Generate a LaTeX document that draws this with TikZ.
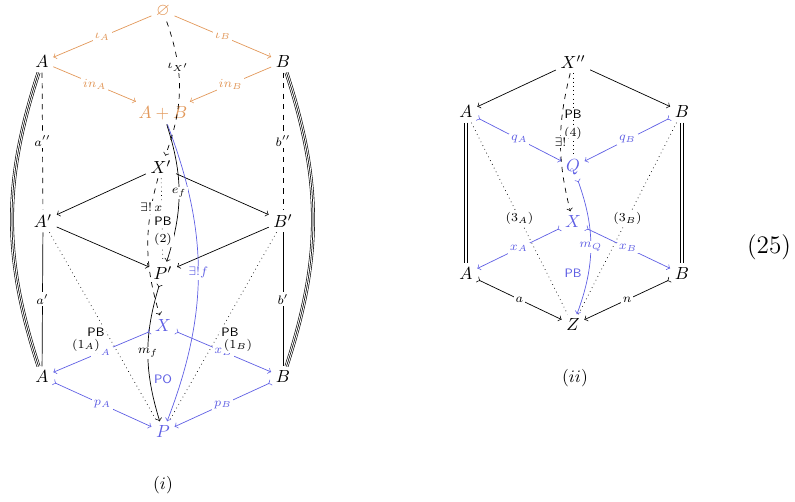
\documentclass[tikz,border=0pt]{standalone}
\usepackage{amsmath,amssymb}
\definecolor{myorange}{RGB}{226,152,90}
\definecolor{myblue}{RGB}{95,95,228}
\begin{document}
\begin{tikzpicture}[x=0.571pt,y=-0.571pt,>=to,
  every node/.style={inner sep=2.5pt},
  lab/.style={fill=white, inner sep=1pt, font=\scriptsize},
  pbl/.style={font=\sffamily\scriptsize, inner sep=1pt, fill=white},
  pbt/.style={font=\sffamily\scriptsize, inner sep=1pt},
  triplebg/.style={double distance=1.5pt, line width=0.35pt},
  tripleln/.style={line width=0.35pt},
  eqline/.style={double distance=1.3pt, line width=0.35pt}]
\useasboundingbox (0,0) rectangle (795,502);
% ---------- left diagram (i)
\node[text=myorange] (E) at (163,11) {$\varnothing$};
\node (A1) at (42,62) {$A$};
\node (B1) at (283,62) {$B$};
\node[text=myorange] (AB) at (163,113) {$A+B$};
\node (Xp) at (161,167) {$X'$};
\node (Ap) at (43,221) {$A'$};
\node (Bp) at (283,221) {$B'$};
\node (Pp) at (163,273) {$P'$};
\node[text=myblue] (X) at (163,326) {$X$};
\node (A2) at (42,377) {$A$};
\node (B2) at (283,377) {$B$};
\node[text=myblue] (P) at (163,432) {$P$};
\node (i) at (163,485) {$(i)$};

\draw[triplebg] (A1) to[bend right=18] (A2);
\draw[tripleln] (A1) to[bend right=18] (A2);
\draw[triplebg] (B1) to[bend left=18] (B2);
\draw[tripleln] (B1) to[bend left=18] (B2);

\draw[->, myorange] (E) -- node[lab]{$\iota_A$} (A1);
\draw[->, myorange] (E) -- node[lab]{$\iota_B$} (B1);
\draw[->, myorange] (A1) -- node[lab]{$in_A$} (AB);
\draw[->, myorange] (B1) -- node[lab]{$in_B$} (AB);

\draw[dashed] (A1) -- node[lab]{$a''$} (Ap);
\draw (Ap) -- node[lab]{$a'$} (A2);
\draw[dashed] (B1) -- node[lab]{$b''$} (Bp);
\draw (Bp) -- node[lab]{$b'$} (B2);

\draw[->] (Xp) -- (Ap);
\draw[->] (Xp) -- (Bp);
\draw[->] (Ap) -- (Pp);
\draw[->] (Bp) -- (Pp);

\draw[dotted] (Ap) -- (P);
\draw[dotted] (Bp) -- (P);
\draw[dotted] (Xp) -- (Pp);

\draw[->, myblue] (AB) to[bend left=21] node[lab, text=myblue]{$\exists!f$} (P);
\draw[->] (AB) to[bend left=18] node[lab]{$e_f$} (Pp);
\draw[->, dashed] (E) to[bend left=20] node[lab, pos=0.33]{$\iota_{X'}$} (Xp);
\draw[->, dashed] (Xp) to[bend right=16] node[lab, pos=0.2]{$\exists!\,x$} (X);
\node[pbl] (pb2) at (163,221) {PB};
\node[lab] (l2) at (163,239) {$(2)$};
\draw[>->] (Pp) to[bend right=17] node[lab]{$m_f$} (P);

\draw[>->, myblue] (X) -- node[lab]{$x_A$} (A2);
\draw[>->, myblue] (X) -- node[lab]{$x_B$} (B2);
\draw[>->, myblue] (A2) -- node[lab]{$p_A$} (P);
\draw[>->, myblue] (B2) -- node[lab]{$p_B$} (P);

\node[pbl] (pb1a) at (96,332) {PB};
\node[lab] (l1a) at (86,345) {$(1_A)$};
\node[pbl] (pb1b) at (230,332) {PB};
\node[lab] (l1b) at (238,345) {$(1_B)$};
\node[pbt, text=myblue] (po) at (163,379) {PO};

% ---------- right diagram (ii)
\node (X2) at (573,62) {$X''$};
\node (RA1) at (466,112) {$A$};
\node (RB1) at (682,112) {$B$};
\node[text=myblue] (Q) at (573,167) {$Q$};
\node[text=myblue] (RX) at (573,222) {$X$};
\node (RA2) at (466,274) {$A$};
\node (RB2) at (682,274) {$B$};
\node (Z) at (573,325) {$Z$};
\node (ii) at (575,378) {$(ii)$};
\node[font=\Large] (eqn) at (769,247) {(25)};

\draw[eqline] (RA1) -- (RA2);
\draw[eqline] (RB1) -- (RB2);
\draw[->] (X2) -- (RA1);
\draw[->] (X2) -- (RB1);
\draw[dotted] (X2) -- (Q);
\node[pbl] (pb4) at (573,114) {PB};
\node[lab] (l4) at (573,133) {$(4)$};
\draw[dotted] (RA1) -- node[lab]{$(3_A)$} (Z);
\draw[dotted] (RB1) -- node[lab]{$(3_B)$} (Z);
\draw[>->, myblue] (RA1) -- node[lab]{$q_A$} (Q);
\draw[>->, myblue] (RB1) -- node[lab]{$q_B$} (Q);
\draw[->, dashed] (X2) to[bend right=14] node[lab]{$\exists!$} (RX);
\draw[>->, myblue] (Q) to[bend left=20] node[lab]{$m_Q$} (Z);
\draw[>->, myblue] (RX) -- node[lab]{$x_A$} (RA2);
\draw[>->, myblue] (RX) -- node[lab]{$x_B$} (RB2);
\draw[>->] (RA2) -- node[lab]{$a$} (Z);
\draw[>->] (RB2) -- node[lab]{$n$} (Z);
\node[pbt, text=myblue] (pbr) at (573,273) {PB};
\end{tikzpicture}
\end{document}
